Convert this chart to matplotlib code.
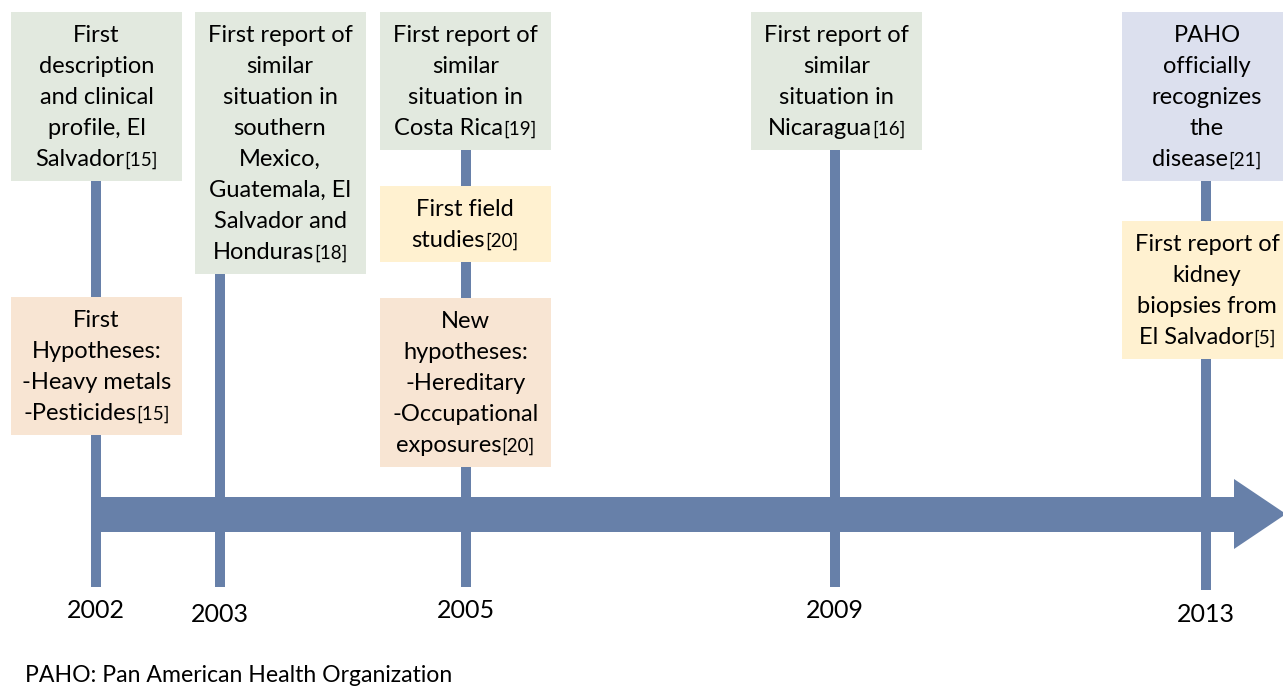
import matplotlib.pyplot as plt
from matplotlib.patches import Rectangle, Polygon

# timeline ticks
years = [2002, 2003, 2005, 2009, 2013]
year_x = [96, 220, 466, 835, 1206]      # tick positions (not to scale in the original)
year_y = [611, 614, 611, 611, 614]

# events
event_years = [2002, 2002, 2003, 2005, 2005, 2005, 2009, 2013, 2013]
event_kinds = ["report", "hypothesis", "report", "report", "field",
               "hypothesis", "report", "official", "field"]
event_texts = [
    "First\ndescription\nand clinical\nprofile, El\nSalvador",
    "First\nHypotheses:\n-Heavy metals\n-Pesticides",
    "First report of\nsimilar\nsituation in\nsouthern\nMexico,\nGuatemala, El\nSalvador and\nHonduras",
    "First report of\nsimilar\nsituation in\nCosta Rica",
    "First field\nstudies",
    "New\nhypotheses:\n-Hereditary\n-Occupational\nexposures",
    "First report of\nsimilar\nsituation in\nNicaragua",
    "PAHO\nofficially\nrecognizes\nthe\ndisease",
    "First report of\nkidney\nbiopsies from\nEl Salvador",
]
event_refs = ["15", "15", "18", "19", "20", "20", "16", "21", "5"]
footnote = "PAHO: Pan American Health Organization"

# box layout (pixels)
box_cx = [96.5, 96.5, 280, 465.5, 465, 465.5, 836.5, 1207, 1207]
box_top = [12, 297, 12, 12, 186, 298, 12, 12, 221]
box_w = 171
line_h = 31

kind_colors = {
    "report": "#E2E9DF",
    "hypothesis": "#F8E5D3",
    "field": "#FFF1D0",
    "official": "#DCE0EE",
}
blue = "#6780A9"
font = "Lato"
fs = 17
fs_ref = 13.5

fig = plt.figure(figsize=(12.83, 6.89), dpi=100)
ax = fig.add_axes([0, 0, 1, 1])
ax.set_xlim(0, 1283)
ax.set_ylim(689, 0)
ax.axis("off")

# main arrow
shaft_top, shaft_bot, head_x = 497, 532, 1234
ax.add_patch(Polygon([(91, shaft_top), (head_x, shaft_top), (head_x, 479),
                      (1286, 514), (head_x, 549), (head_x, shaft_bot),
                      (91, shaft_bot)], closed=True, color=blue, lw=0, zorder=1))

# vertical ticks and year labels
for yr, x, ylab in zip(years, year_x, year_y):
    bottom = 590 if yr == 2013 else 587
    ax.add_patch(Rectangle((x - 5, 60), 10, bottom - 60, color=blue, lw=0, zorder=1))
    ax.text(x, ylab, str(yr), ha="center", va="center", fontsize=18,
            family=font, color="black")

renderer = fig.canvas.get_renderer()

# event boxes
for yr, kind, txt, ref, cx, top in zip(event_years, event_kinds, event_texts,
                                       event_refs, box_cx, box_top):
    lines = txt.split("\n")
    h = line_h * len(lines) + 14
    left = cx - box_w / 2
    ax.add_patch(Rectangle((left, top), box_w, h, facecolor=kind_colors[kind],
                           lw=0, zorder=2))
    for i, ln in enumerate(lines):
        base = top + 22 + i * line_h + 8
        if i < len(lines) - 1:
            ax.text(cx, base, ln, ha="center", va="baseline", fontsize=fs,
                    family=font, zorder=3)
        else:
            t1 = ax.text(0, base, ln, ha="left", va="baseline", fontsize=fs,
                         family=font, zorder=3)
            t2 = ax.text(0, base, "[" + ref + "]", ha="left", va="baseline",
                         fontsize=fs_ref, family=font, zorder=3)
            w1 = t1.get_window_extent(renderer).width
            w2 = t2.get_window_extent(renderer).width
            x0 = cx - (w1 + w2) / 2
            t1.set_x(x0)
            t2.set_x(x0 + w1)

ax.text(25, 686, footnote, ha="left", va="bottom", fontsize=16.6, family=font)

fig.savefig("out.png", dpi=100)
